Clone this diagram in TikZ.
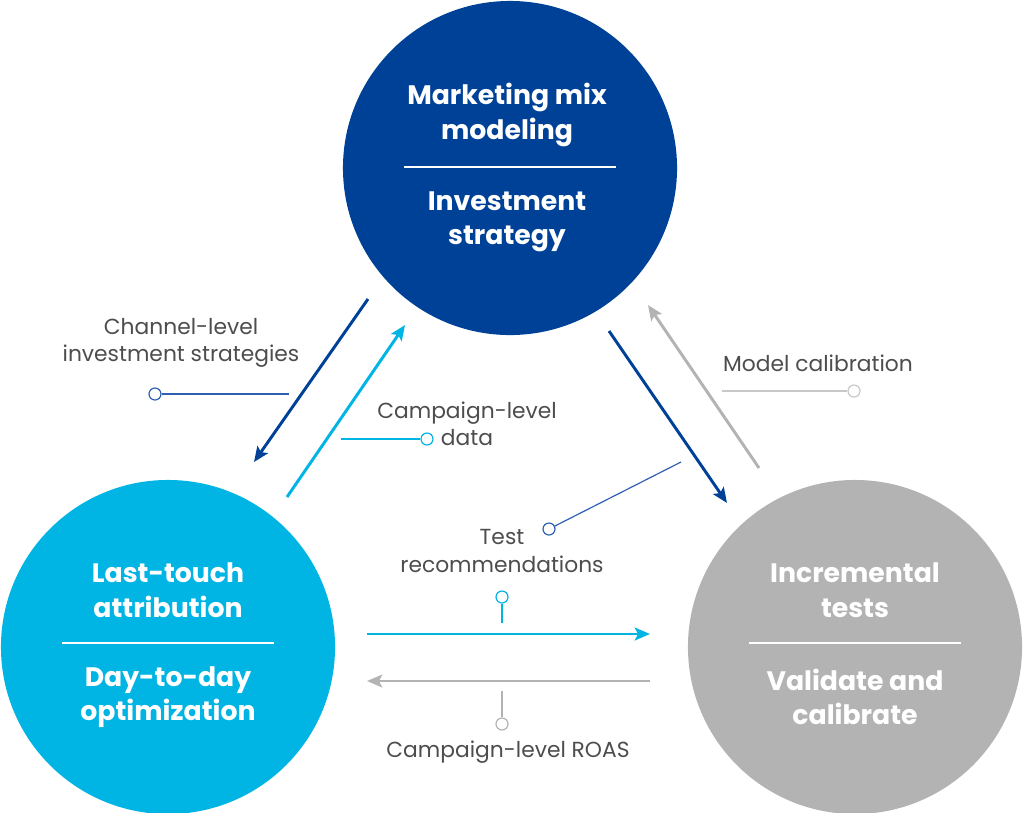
\documentclass[tikz,border=0pt]{standalone}
\usepackage{fontspec}
\setmainfont{Poppins}
\definecolor{MMMBlue}{RGB}{0,65,152}
\definecolor{LTACyan}{RGB}{0,180,228}
\definecolor{IncGray}{RGB}{179,179,179}
\definecolor{LeadBlue}{RGB}{45,95,180}
\definecolor{LeadGray}{RGB}{200,200,200}
\definecolor{LabelGray}{RGB}{77,77,77}
\usetikzlibrary{arrows.meta,positioning}

\begin{document}
\begin{tikzpicture}[x=0.025cm,y=-0.025cm,
    hub/.style={circle,minimum size=8.35cm,inner sep=0pt},
    hubtext/.style={text=white,align=center,
                    font=\fontsize{19}{24.5}\selectfont\bfseries},
    divider/.style={white,line width=1.6pt},
    arr/.style={-{Stealth[length=0.38cm,width=0.32cm,inset=0.08cm]},line width=2.1pt},
    lbl/.style={text=LabelGray,align=center,font=\fontsize{15.5}{19.5}\selectfont},
    pin/.style={circle,draw,fill=white,minimum size=0.3cm,inner sep=0pt,line width=0.85pt},
    lead/.style={line width=0.85pt}]
    \useasboundingbox (0,0) rectangle (1024,812);

    % the three circles
    \node[hub,fill=MMMBlue] (mmm) at (510,168) {};
    \node[hub,fill=LTACyan] (lta) at (168,647) {};
    \node[hub,fill=IncGray] (inc) at (855,647) {};

    \node[hubtext] (mmm1) at (507,115) {Marketing mix\\modeling};
    \node[hubtext] (mmm2) at (507,222) {Investment\\strategy};
    \draw[divider] ([shift={(-106,-1)}]mmm.center) -- ([shift={(106,-1)}]mmm.center);

    \node[hubtext] (lta1) at (168,590) {Last-touch\\attribution};
    \node[hubtext] (lta2) at (168,697) {Day-to-day\\optimization};
    \draw[divider] ([shift={(-106,-4)}]lta.center) -- ([shift={(106,-4)}]lta.center);

    \node[hubtext] (inc1) at (855,590) {Incremental\\tests};
    \node[hubtext] (inc2) at (855,697) {Validate and\\calibrate};
    \draw[divider] ([shift={(-106,-4)}]inc.center) -- ([shift={(106,-4)}]inc.center);

    % arrow ends
    \coordinate (mmm-sw) at (368,299);
    \coordinate (lta-ne) at (254,462);
    \coordinate (lta-up) at (287,497);
    \coordinate (mmm-in) at (405,325);
    \coordinate (mmm-se) at (609,331);
    \coordinate (inc-nw) at (727,503);
    \coordinate (inc-up) at (759,468);
    \coordinate (mmm-rt) at (648,305);
    \coordinate (lta-e1) at (367,634);
    \coordinate (inc-w1) at (650,634);
    \coordinate (inc-w2) at (650,681);
    \coordinate (lta-e2) at (367,681);

    \draw[arr,MMMBlue] (mmm-sw)--(lta-ne);
    \draw[arr,LTACyan] (lta-up)--(mmm-in);
    \draw[arr,MMMBlue] (mmm-se)--(inc-nw);
    \draw[arr,IncGray] (inc-up)--(mmm-rt);
    \draw[arr,LTACyan] (lta-e1)--(inc-w1);
    \draw[arr,IncGray] (inc-w2)--(lta-e2);

    % labels and leaders
    \node[lbl] (chan) at (181,343) {Channel-level\\investment strategies};
    \node[pin,draw=LeadBlue] (chanpin) at (155,394) {};
    \coordinate (chanend) at (289,394);
    \draw[lead,LeadBlue] (chanpin)--(chanend);

    \node[lbl] (cdata) at (467,424) {Campaign-level\\data};
    \node[pin,draw=LTACyan] (cdatapin) at (427,439) {};
    \coordinate (cdataend) at (341,439);
    \draw[lead,LTACyan] (cdatapin)--(cdataend);

    \node[lbl] (calib) at (818,363) {Model calibration};
    \node[pin,draw=LeadGray] (calibpin) at (854,391) {};
    \coordinate (calibend) at (722,391);
    \draw[lead,LeadGray] (calibpin)--(calibend);

    \node[lbl] (test) at (502,551) {Test\\recommendations};
    \node[pin,draw=LeadBlue] (testpin) at (549,529) {};
    \coordinate (testend) at (681,462);
    \draw[lead,LeadBlue] (testpin)--(testend);

    \node[pin,draw=LTACyan] (ltapin) at (502,597) {};
    \coordinate (ltaend) at (502,623);
    \draw[lead,LTACyan] (ltapin)--(ltaend);

    \node[lbl] (roas) at (508,752) {Campaign-level ROAS};
    \node[pin,draw=IncGray] (roaspin) at (502,724) {};
    \coordinate (roasend) at (502,691);
    \draw[lead,IncGray] (roaspin)--(roasend);
\end{tikzpicture}
\end{document}
